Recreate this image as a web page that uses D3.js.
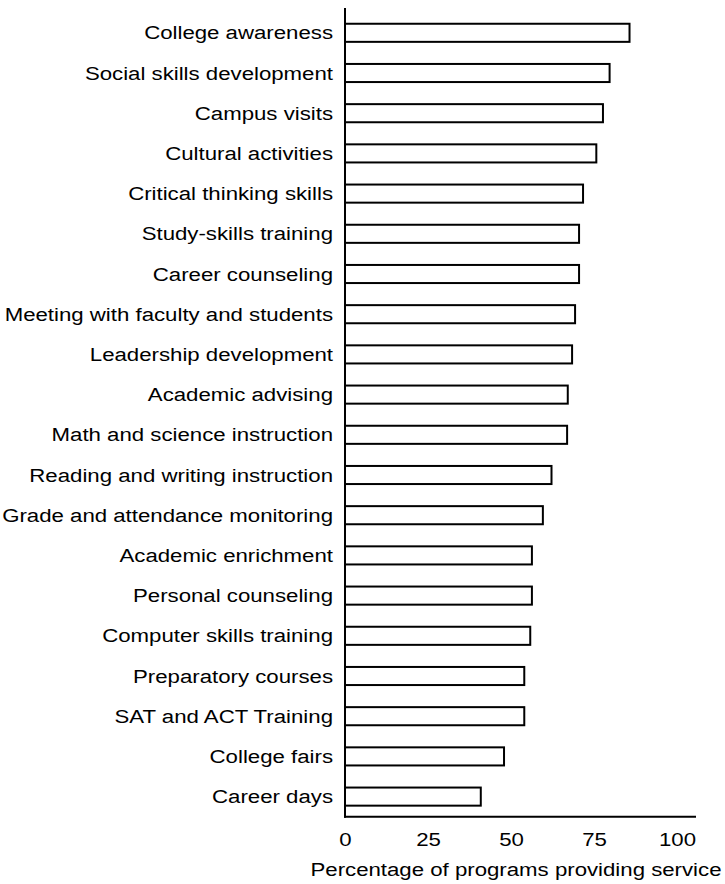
<!DOCTYPE html>
<html>
<head>
<meta charset="utf-8">
<script src="https://cdn.jsdelivr.net/npm/d3@7"></script>
<style>
  html, body { margin: 0; padding: 0; background: #fff; }
  svg { display: block; }
  text { font-family: "Liberation Sans", Arial, Helvetica, sans-serif; fill: #000; }
</style>
</head>
<body>
<svg id="chart" width="725" height="884"></svg>
<script>
const categories = [
  "College awareness",
  "Social skills development",
  "Campus visits",
  "Cultural activities",
  "Critical thinking skills",
  "Study-skills training",
  "Career counseling",
  "Meeting with faculty and students",
  "Leadership development",
  "Academic advising",
  "Math and science instruction",
  "Reading and writing instruction",
  "Grade and attendance monitoring",
  "Academic enrichment",
  "Personal counseling",
  "Computer skills training",
  "Preparatory courses",
  "SAT and ACT Training",
  "College fairs",
  "Career days"
];
const values = [86, 80, 78, 76, 72, 70.8, 70.8, 69.6, 68.7, 67.4, 67.2, 62.5, 59.9, 56.6, 56.6, 56.1, 54.3, 54.3, 48.2, 41.2];
const tickValues = [0, 25, 50, 75, 100];
const axisTitle = "Percentage of programs providing service";

const STRETCH = 1.17;
const svg = d3.select("#chart");
const x = d3.scaleLinear().domain([0, 100]).range([345, 677]);
const y = d3.scaleBand().domain(categories).range([12.7, 816.7]).paddingInner(0.5).paddingOuter(0.25);

// bars
svg.append("g").selectAll("rect")
  .data(categories)
  .join("rect")
  .attr("x", x(0))
  .attr("y", d => y(d) + 1)
  .attr("width", (d, i) => x(values[i]) - x(0) - 1)
  .attr("height", y.bandwidth() - 2)
  .attr("fill", "#fff")
  .attr("stroke", "#000")
  .attr("stroke-width", 2);

// category labels
svg.append("g").selectAll("text")
  .data(categories)
  .join("text")
  .attr("transform", d => `translate(333,${y(d) + y.bandwidth() / 2}) scale(${STRETCH},1)`)
  .attr("dy", "0.35em")
  .attr("text-anchor", "end")
  .attr("font-size", 19)
  .text(d => d);

// axes lines
svg.append("line")
  .attr("x1", x(0)).attr("x2", x(0))
  .attr("y1", 8).attr("y2", 817.7)
  .attr("stroke", "#000").attr("stroke-width", 2);
svg.append("line")
  .attr("x1", x(0) - 1).attr("x2", 696)
  .attr("y1", 816.7).attr("y2", 816.7)
  .attr("stroke", "#000").attr("stroke-width", 2);

// x tick labels via axis
const xAxis = d3.axisBottom(x).tickValues(tickValues).tickSize(0).tickPadding(0).tickFormat(d3.format("d"));
const gx = svg.append("g").attr("transform", "translate(0,833)").call(xAxis);
gx.select(".domain").remove();
gx.selectAll("text")
  .attr("font-size", 19)
  .attr("font-family", "Liberation Sans, Arial, sans-serif")
  .attr("fill", "#000")
  .attr("y", 0).attr("dy", "0.71em")
  .attr("transform", `scale(${STRETCH},1)`);

// axis title
svg.append("text")
  .attr("transform", `translate(516,876) scale(${STRETCH},1)`)
  .attr("text-anchor", "middle")
  .attr("font-size", 19)
  .text(axisTitle);
</script>
</body>
</html>
